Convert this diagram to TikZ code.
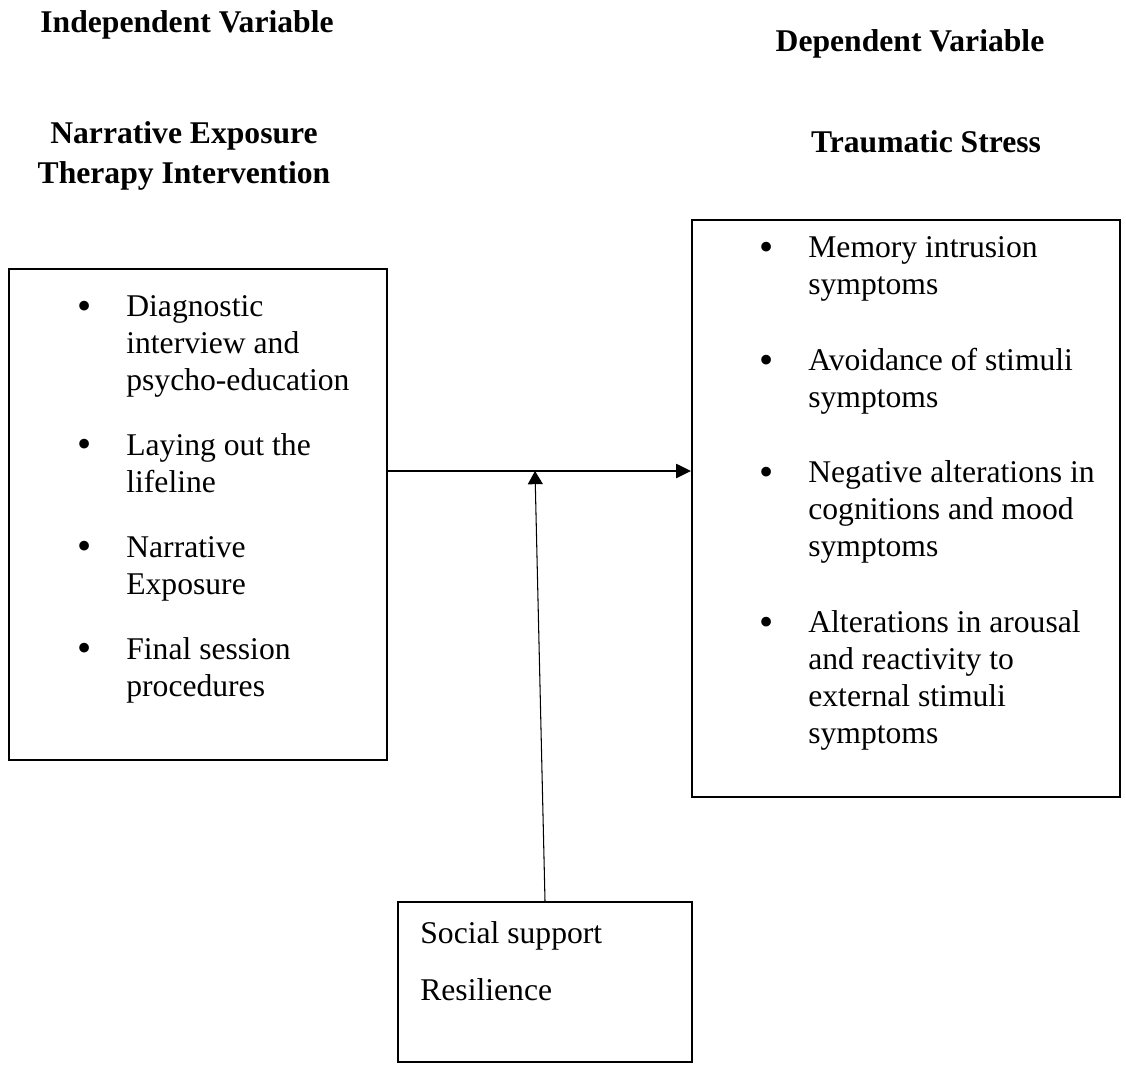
\documentclass[tikz,border=0pt]{standalone}
\usepackage{fontspec}
\setmainfont{Liberation Serif}
\usetikzlibrary{arrows.meta}
\begin{document}
\begin{tikzpicture}[x=0.02cm, y=-0.02cm,
  every node/.style={inner sep=0pt, font=\fontsize{18}{21}\selectfont},
  box/.style={draw, line width=1.1pt},
  head/.style={anchor=base, align=center, font=\fontsize{18}{22.7}\selectfont\bfseries},
  item/.style={anchor=base west, align=left},
  dot/.style={anchor=base, font=\fontsize{23}{23}\selectfont}]
\useasboundingbox (0,0) rectangle (1126,1068);

\node[head] (ivlab) at (187,33) {Independent Variable};
\node[head] (dvlab) at (910,52) {Dependent Variable};
\node[head] (ivname) at (184,183) {Narrative Exposure\\Therapy Intervention};
\node[head] (dvname) at (926,153) {Traumatic Stress};

\node[box, minimum width=7.56cm, minimum height=9.82cm] (iv) at (198,514.5) {};
\node[box, minimum width=8.56cm, minimum height=11.54cm] (dv) at (906,508.5) {};
\node[box, minimum width=5.88cm, minimum height=3.2cm] (mod) at (545,982) {};

\node[dot] (b1) at (85,319) {•};
\node[item] (i1) at (126,390) {Diagnostic\\interview and\\psycho-education};
\node[dot] (b2) at (85,457) {•};
\node[item] (i2) at (126,492) {Laying out the\\lifeline};
\node[dot] (b3) at (85,559) {•};
\node[item] (i3) at (126,594) {Narrative\\Exposure};
\node[dot] (b4) at (85,661) {•};
\node[item] (i4) at (126,696) {Final session\\procedures};

\node[dot] (d1) at (767,260) {•};
\node[item] (s1) at (808,294) {Memory intrusion\\symptoms};
\node[dot] (d2) at (767,373) {•};
\node[item] (s2) at (808,407) {Avoidance of stimuli\\symptoms};
\node[dot] (d3) at (767,485) {•};
\node[item] (s3) at (808,556) {Negative alterations in\\cognitions and mood\\symptoms};
\node[dot] (d4) at (767,635) {•};
\node[item] (s4) at (808,743) {Alterations in arousal\\and reactivity to\\external stimuli\\symptoms};

\node[item] (m1) at (420,943) {Social support};
\node[item] (m2) at (420,1000) {Resilience};

\coordinate (mid) at (535,471);
\draw[line width=1.1pt, -{Triangle[length=8.5pt, width=8pt]}] (iv.east |- mid) -- (dv.west |- mid);
\draw[line width=0.6pt, -{Triangle[length=7.5pt, width=8.5pt]}] (mod.north) -- (mid);
\end{tikzpicture}
\end{document}
